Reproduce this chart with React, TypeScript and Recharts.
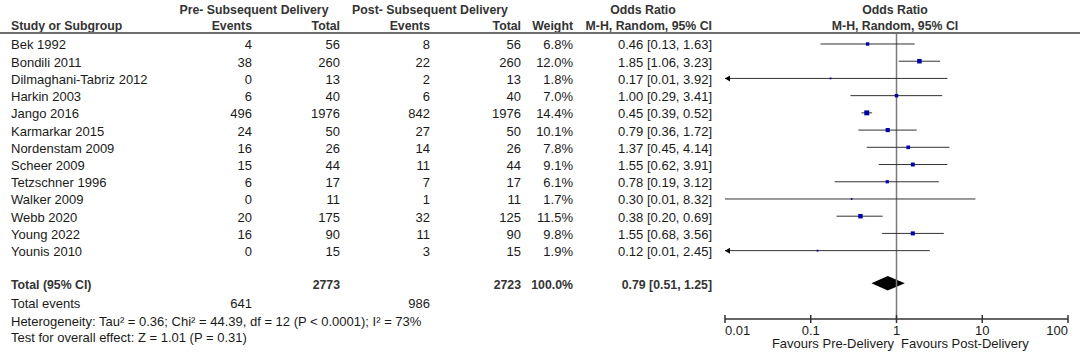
import { Area, ComposedChart, ErrorBar, ReferenceLine, Scatter, XAxis, YAxis } from 'recharts'

const FONT = '"Liberation Sans", Arial, sans-serif'

const studies = [
  'Bek 1992', 'Bondili 2011', 'Dilmaghani-Tabriz 2012', 'Harkin 2003', 'Jango 2016', 'Karmarkar 2015',
  'Nordenstam 2009', 'Scheer 2009', 'Tetzschner 1996', 'Walker 2009', 'Webb 2020', 'Young 2022', 'Younis 2010',
]
const preEvents = [4, 38, 0, 6, 496, 24, 16, 15, 6, 0, 20, 16, 0]
const preTotal = [56, 260, 13, 40, 1976, 50, 26, 44, 17, 11, 175, 90, 15]
const postEvents = [8, 22, 2, 6, 842, 27, 14, 11, 7, 1, 32, 11, 3]
const postTotal = [56, 260, 13, 40, 1976, 50, 26, 44, 17, 11, 125, 90, 15]
const weights = [6.8, 12.0, 1.8, 7.0, 14.4, 10.1, 7.8, 9.1, 6.1, 1.7, 11.5, 9.8, 1.9]
const oddsRatio = [0.46, 1.85, 0.17, 1.0, 0.45, 0.79, 1.37, 1.55, 0.78, 0.3, 0.38, 1.55, 0.12]
const ciLow = [0.13, 1.06, 0.01, 0.29, 0.39, 0.36, 0.45, 0.62, 0.19, 0.01, 0.2, 0.68, 0.01]
const ciHigh = [1.63, 3.23, 3.92, 3.41, 0.52, 1.72, 4.14, 3.91, 3.12, 8.32, 0.69, 3.56, 2.45]
// lower limit runs off the left edge of the plot
const offScaleLow = [false, false, true, false, false, false, false, false, false, false, false, false, true]

const totalPre = 2773
const totalPost = 2723
const totalEventsPre = 641
const totalEventsPost = 986
const totalWeight = 100.0
const totalOR = 0.79
const totalLow = 0.51
const totalHigh = 1.25

const xTicks = [0.01, 0.1, 1, 10, 100]

// row layout (y axis runs in row units)
const TOTAL_ROW = 13.9
const EVENTS_ROW = 15
const Y_TOP = -0.58
const Y_BOTTOM = 15.97
const DIAMOND_H = 0.42

const points = studies.map((_, i) => ({
  x: oddsRatio[i],
  y: i,
  err: [oddsRatio[i] - ciLow[i], ciHigh[i] - oddsRatio[i]],
  w: weights[i],
}))
const arrows = studies.map((_, i) => ({ x: ciLow[i], y: i })).filter((_, i) => offScaleLow[i])
const diamond = [
  { x: totalLow, band: [TOTAL_ROW, TOTAL_ROW] },
  { x: totalOR, band: [TOTAL_ROW - DIAMOND_H, TOTAL_ROW + DIAMOND_H] },
  { x: totalHigh, band: [TOTAL_ROW, TOTAL_ROW] },
]
const tableRows = [...studies.map((_, i) => i), TOTAL_ROW, EVENTS_ROW]

const col = { name: 11, preEv: 252, preTot: 340, postEv: 430, postTot: 521, weight: 573, ci: 712 }
const ink = '#1a1a1a'

const fmtCI = (o: number, l: number, h: number) => `${o.toFixed(2)} [${l.toFixed(2)}, ${h.toFixed(2)}]`

function TableRow({ y, payload }: any) {
  const row = payload.value
  const ty = y + 5.5
  const t = (x: number, s: string | number, anchor = 'end') => (
    <text x={x} y={ty} textAnchor={anchor}>{s}</text>
  )
  if (row === EVENTS_ROW) {
    return (
      <g fontFamily={FONT} fontSize={13} fill={ink}>
        {t(col.name, 'Total events', 'start')}
        {t(col.preEv, totalEventsPre)}
        {t(col.postEv, totalEventsPost)}
      </g>
    )
  }
  if (row === TOTAL_ROW) {
    return (
      <g fontFamily={FONT} fontSize={12.3} fontWeight="bold" fill="#333">
        {t(col.name, 'Total (95% CI)', 'start')}
        {t(col.preTot, totalPre)}
        {t(col.postTot, totalPost)}
        {t(col.weight, `${totalWeight.toFixed(1)}%`)}
        {t(col.ci, fmtCI(totalOR, totalLow, totalHigh))}
      </g>
    )
  }
  const i = row
  return (
    <g fontFamily={FONT} fontSize={13} fill={ink}>
      {t(col.name, studies[i], 'start')}
      {t(col.preEv, preEvents[i])}
      {t(col.preTot, preTotal[i])}
      {t(col.postEv, postEvents[i])}
      {t(col.postTot, postTotal[i])}
      {t(col.weight, `${weights[i].toFixed(1)}%`)}
      {t(col.ci, fmtCI(oddsRatio[i], ciLow[i], ciHigh[i]))}
    </g>
  )
}

function LogTick({ x, y, payload, index }: any) {
  const anchor = index === 0 ? 'start' : index === xTicks.length - 1 ? 'end' : 'middle'
  return (
    <g>
      <line x1={x} x2={x} y1={y - 4} y2={y + 4} stroke="#333" strokeWidth={1.5} />
      <text x={x} y={y + 15.5} textAnchor={anchor} fontFamily={FONT} fontSize={13} fill={ink}>
        {payload.value}
      </text>
    </g>
  )
}

function WeightSquare({ cx, cy, payload }: any) {
  const s = Math.max(1.6, Math.sqrt(payload.w) * 1.3)
  return <rect x={cx - s / 2} y={cy - s / 2} width={s} height={s} fill="#0000a8" />
}

function ArrowHead({ cx, cy }: any) {
  return <path d={`M${cx},${cy} L${cx + 5},${cy - 3} L${cx + 5},${cy + 3} Z`} fill="#000" />
}

export default function App() {
  return (
    <div style={{ position: 'absolute', left: 0, top: 0, width: 1080, height: 356, background: '#fff' }}>
      <ComposedChart width={1080} height={356} margin={{ top: 34, right: 12, bottom: 0, left: 0 }}>
        <XAxis
          dataKey="x"
          type="number"
          scale="log"
          domain={[0.01, 100]}
          allowDataOverflow
          ticks={xTicks}
          interval={0}
          height={37}
          tickSize={0}
          tickMargin={0}
          tickLine={false}
          axisLine={{ stroke: '#333', strokeWidth: 1.5 }}
          tick={(p: any) => <LogTick {...p} />}
        />
        <YAxis
          dataKey="y"
          type="number"
          domain={[Y_TOP, Y_BOTTOM]}
          allowDataOverflow
          reversed
          width={725}
          ticks={tableRows}
          interval={0}
          axisLine={false}
          tickLine={false}
          tick={(p: any) => <TableRow {...p} />}
        />
        <ReferenceLine x={1} stroke="#7a7a7a" strokeWidth={1.5} />
        <Area
          data={diamond}
          dataKey="band"
          type="linear"
          stroke="none"
          fill="#000"
          fillOpacity={1}
          dot={false}
          activeDot={false}
          isAnimationActive={false}
        />
        <Scatter data={points} shape={(p: any) => <WeightSquare {...p} />} isAnimationActive={false}>
          <ErrorBar dataKey="err" direction="x" width={0} stroke="#333" strokeWidth={1} isAnimationActive={false} />
        </Scatter>
        <Scatter data={arrows} shape={(p: any) => <ArrowHead {...p} />} isAnimationActive={false} />
      </ComposedChart>
      <svg
        width={1080}
        height={356}
        style={{ position: 'absolute', left: 0, top: 0, pointerEvents: 'none' }}
        fontFamily={FONT}
      >
        <g fontSize={12.3} fontWeight="bold" fill="#333">
          <text x={254} y={14} textAnchor="middle">Pre- Subsequent Delivery</text>
          <text x={430} y={14} textAnchor="middle">Post- Subsequent Delivery</text>
          <text x={643} y={14} textAnchor="middle">Odds Ratio</text>
          <text x={895} y={14} textAnchor="middle">Odds Ratio</text>
          <text x={col.name} y={30}>Study or Subgroup</text>
          <text x={col.preEv} y={30} textAnchor="end">Events</text>
          <text x={col.preTot} y={30} textAnchor="end">Total</text>
          <text x={col.postEv} y={30} textAnchor="end">Events</text>
          <text x={col.postTot} y={30} textAnchor="end">Total</text>
          <text x={col.weight} y={30} textAnchor="end">Weight</text>
          <text x={col.ci} y={30} textAnchor="end">M-H, Random, 95% CI</text>
          <text x={895} y={30} textAnchor="middle">M-H, Random, 95% CI</text>
        </g>
        <line x1={0} x2={1080} y1={33} y2={33} stroke="#6e6e6e" strokeWidth={2} />
        <g fontSize={13} fill={ink}>
          <text x={col.name} y={325.5}>Heterogeneity: Tau² = 0.36; Chi² = 44.39, df = 12 (P &lt; 0.0001); I² = 73%</text>
          <text x={col.name} y={342}>Test for overall effect: Z = 1.01 (P = 0.31)</text>
          <text x={894} y={347.5} textAnchor="end">Favours Pre-Delivery</text>
          <text x={901} y={347.5}>Favours Post-Delivery</text>
        </g>
      </svg>
    </div>
  )
}
